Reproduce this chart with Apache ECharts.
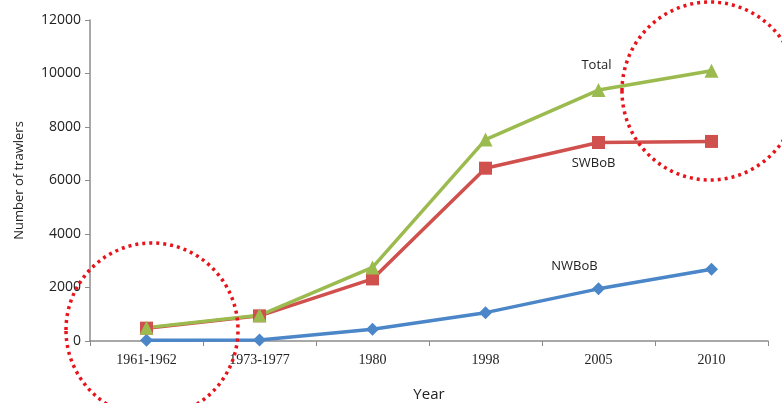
<!DOCTYPE html>
<html><head><meta charset="utf-8">
<script src="https://cdn.jsdelivr.net/npm/echarts@6/dist/echarts.min.js"></script>
<style>html,body{margin:0;padding:0;background:#fff}#c{width:782px;height:403px}</style>
</head><body><div id="c"></div>
<script>
const categories = ['1961-1962','1973-1977','1980','1998','2005','2010'];
const nwbob = [30, 40, 440, 1060, 1950, 2680];
const swbob = [480, 940, 2320, 6460, 7420, 7460];
const total = [500, 960, 2750, 7530, 9380, 10100];
const yTicks = [0, 2000, 4000, 6000, 8000, 10000, 12000];

const chart = echarts.init(document.getElementById('c'));
function withLabel(arr, idx, text, off) {
  return arr.map((v, i) => i === idx ? {value: v, label: {show: true, formatter: text, position: 'inside', offset: off, color: '#222', fontSize: 13, fontFamily: 'Open Sans'}} : v);
}
chart.setOption({
  animation: false,
  grid: {left: 90, right: 14, top: 20, bottom: 62, containLabel: false, outerBoundsMode: 'none'},
  xAxis: {
    type: 'category', data: categories, boundaryGap: true,
    name: 'Year', nameLocation: 'middle', nameGap: 46,
    nameTextStyle: {fontFamily: 'Open Sans', fontSize: 15, color: '#222'},
    axisLine: {lineStyle: {color: '#8c8c8c', width: 1.5}},
    axisTick: {show: true, length: 5, lineStyle: {color: '#8c8c8c'}},
    axisLabel: {fontFamily: 'Liberation Serif', fontSize: 14, color: '#222', margin: 12},
    splitLine: {show: false}
  },
  yAxis: {
    type: 'value', min: yTicks[0], max: yTicks[yTicks.length - 1], interval: 2000,
    name: 'Number of trawlers', nameLocation: 'middle', nameGap: 64, nameRotate: 90,
    nameTextStyle: {fontFamily: 'Open Sans', fontSize: 13, color: '#222'},
    axisLine: {show: true, lineStyle: {color: '#8c8c8c', width: 1.5}},
    axisTick: {show: true, length: 5, lineStyle: {color: '#8c8c8c'}},
    axisLabel: {fontFamily: 'Open Sans', fontSize: 14, color: '#222', margin: 9, formatter: v => String(v)},
    splitLine: {show: false}
  },
  series: [
    {name: 'NWBoB', type: 'line', data: withLabel(nwbob, 4, 'NWBoB', [-24, -23]),
     symbol: 'diamond', symbolSize: 13, lineStyle: {color: '#4a86c8', width: 3.5},
     itemStyle: {color: '#4a86c8'}, label: {show: false}},
    {name: 'SWBoB', type: 'line', data: withLabel(swbob, 4, 'SWBoB', [-5, 21]),
     symbol: 'rect', symbolSize: 13, lineStyle: {color: '#d0504d', width: 3.5},
     itemStyle: {color: '#d0504d'}, label: {show: false}},
    {name: 'Total', type: 'line', data: withLabel(total, 4, 'Total', [-2, -25]),
     symbol: 'triangle', symbolSize: 14, lineStyle: {color: '#9bbb4f', width: 3.5},
     itemStyle: {color: '#9bbb4f'}, label: {show: false}}
  ],
  graphic: [
    {type: 'ellipse', shape: {cx: 152, cy: 330, rx: 86, ry: 87}, style: {fill: 'none', stroke: '#e8141c', lineWidth: 3.5, lineDash: [3, 4]}, z: 100},
    {type: 'ellipse', shape: {cx: 710, cy: 91, rx: 88, ry: 89}, style: {fill: 'none', stroke: '#e8141c', lineWidth: 3.5, lineDash: [3, 4]}, z: 100}
  ]
});
</script></body></html>
